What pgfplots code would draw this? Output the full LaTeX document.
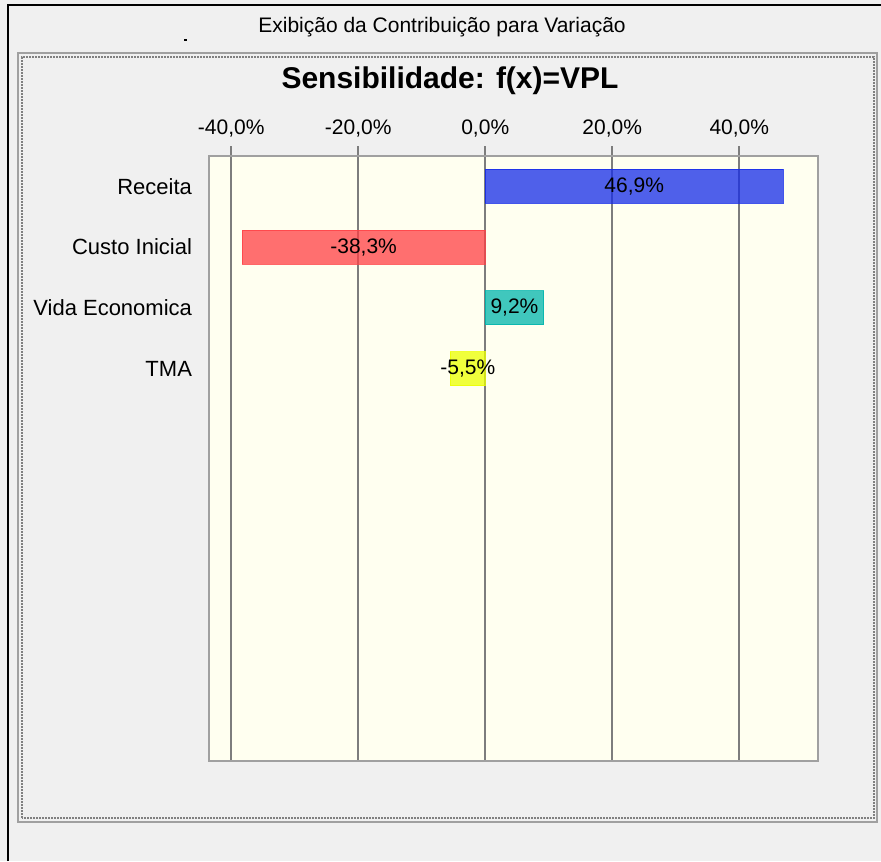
\documentclass[border=0pt]{standalone}
\usepackage{fontspec}
\setmainfont{Liberation Sans}
\usepackage{pgfplots}
\pgfplotsset{compat=1.18}
\definecolor{winbg}{RGB}{240,240,240}
\definecolor{plotbg}{RGB}{255,255,240}
\definecolor{cblue}{RGB}{21,43,233}
\definecolor{cred}{RGB}{255,64,69}
\definecolor{cteal}{RGB}{0,181,173}
\definecolor{cyel}{RGB}{235,255,0}
\definecolor{gridc}{RGB}{125,125,125}
\definecolor{framec}{RGB}{160,160,160}
\begin{document}
\begin{tikzpicture}
\begin{scope}[x=0.5pt,y=0.5pt]
\fill[winbg] (0,0) rectangle (881,861);
\useasboundingbox (0,0) rectangle (881,861);
\draw[black,line width=1.2pt] (8,0) -- (8,856) -- (881,856);
\draw[framec,line width=1pt] (18,39) rectangle (877,808);
\draw[gray,line width=1pt,dash pattern=on 1pt off 0.5pt] (22,43) rectangle (874,804);
\node[font=\fontsize{10.5}{12}\selectfont] at (442,834) {Exibição da Contribuição para Variação};
\fill[black] (184,820) rectangle (187,822);
\node[font=\fontsize{15}{18}\selectfont\bfseries] at (450,780) {Sensibilidade: f(x)=VPL};
\end{scope}
\begin{axis}[
  at={(104.5pt,50pt)}, anchor=south west,
  scale only axis, width=304.5pt, height=302.5pt,
  xmin=-43.5, xmax=52.4,
  ymin=-0.5, ymax=9.46, y dir=reverse,
  axis background/.style={fill=plotbg},
  axis line style={framec,line width=0.75pt},
  xmajorgrids, major grid style={gridc,line width=0.9pt},
  xtick={-40,-20,0,20,40},
  xtick pos=upper,
  xticklabel pos=upper,
  tick align=outside,
  major tick length=5pt,
  x tick style={gridc,line width=0.9pt},
  y tick style={draw=none},
  xticklabel={\pgfmathprintnumber[fixed,fixed zerofill,precision=1,use comma]{\tick}\%},
  /pgf/number format/assume math mode=true,
  ytick={0,1,2,3},
  yticklabels={Receita,Custo Inicial,Vida Economica,TMA},
  xticklabel style={font=\fontsize{10.5}{12}\selectfont, yshift=1pt},
  yticklabel style={font=\fontsize{11}{13}\selectfont, xshift=0pt},
]
\addplot[xbar, bar width=17pt, bar shift=0pt, fill=cblue, fill opacity=0.75, draw=cblue, draw opacity=0.8, line width=0.5pt] coordinates {(46.9,0)};
\addplot[xbar, bar width=17pt, bar shift=0pt, fill=cred, fill opacity=0.75, draw=cred, draw opacity=0.8, line width=0.5pt] coordinates {(-38.3,1)};
\addplot[xbar, bar width=17pt, bar shift=0pt, fill=cteal, fill opacity=0.75, draw=cteal, draw opacity=0.8, line width=0.5pt] coordinates {(9.2,2)};
\addplot[xbar, bar width=17pt, bar shift=0pt, fill=cyel, fill opacity=0.75, draw=cyel, draw opacity=0.8, line width=0.5pt] coordinates {(-5.5,3)};
\addplot[only marks, mark=*, mark size=0pt, draw=none, fill=none,
  point meta=explicit,
  nodes near coords={\pgfmathprintnumber[fixed,fixed zerofill,precision=1,use comma,assume math mode=true]{\pgfplotspointmeta}\%},
  every node near coord/.style={anchor=center, font=\fontsize{10.5}{12}\selectfont, text=black, text opacity=1}]
  table[x expr=\thisrow{v}/2, y=c, meta=v] {
v c
46.9 0
-38.3 1
9.2 2
-5.5 3
};
\end{axis}
\end{tikzpicture}
\end{document}
